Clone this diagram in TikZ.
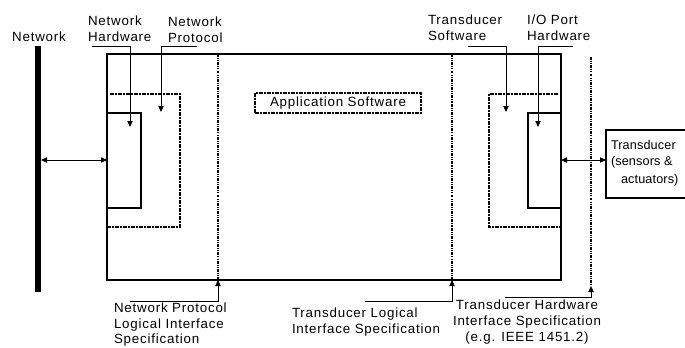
\documentclass[tikz,border=0pt]{standalone}
\usepackage{fontspec}
\setmainfont[LetterSpace=6]{Liberation Sans}
\usetikzlibrary{arrows.meta}
\begin{document}
\begin{tikzpicture}[x=0.75pt,y=-0.75pt,
  every node/.style={inner sep=0pt,outer sep=0pt,font=\fontsize{10}{12}\selectfont},
  solidline/.style={draw=black,line width=0.9pt},
  dotline/.style={draw=black,line width=0.8pt,dash pattern=on 2.2pt off 0.8pt on 0.8pt off 0.8pt on 0.8pt off 0.8pt},
  dashdotline/.style={draw=black,line width=0.8pt,dash pattern=on 3pt off 1pt on 1pt off 1pt},
  tip/.style={-{Triangle[length=4.5pt,width=4pt]}},
  twotip/.style={{Triangle[length=4.5pt,width=4pt]}-{Triangle[length=4.5pt,width=4pt]}},
  lbl/.style={align=left,anchor=base west}]
\useasboundingbox (0,0) rectangle (685,347);
\clip (0,0) rectangle (685,347);

% network bus
\coordinate (busTop) at (38,46);
\coordinate (busBot) at (38,292);
\draw[line width=3.8pt] (busTop) -- (busBot);
\node[anchor=base] (netlbl) at (39,41) {Network};

% main processor box
\node[solidline,minimum width=454*0.75pt,minimum height=226*0.75pt,anchor=north west] (main) at (107,54) {};

% left hardware / protocol boxes
\node[minimum width=73*0.75pt,minimum height=133*0.75pt,anchor=north west] (lproto) at (107,94) {};
\draw[dashdotline] (110,94) -- (180,94) -- (180,227) -- (107,227);
\node[solidline,minimum width=34*0.75pt,minimum height=95*0.75pt,anchor=north west] (lhw) at (107,113) {};

% right hardware / software boxes
\node[minimum width=72*0.75pt,minimum height=133*0.75pt,anchor=north west] (rsoft) at (489,94) {};
\draw[dashdotline] (558,94) -- (489,94) -- (489,227) -- (561,227);
\node[solidline,minimum width=33*0.75pt,minimum height=95*0.75pt,anchor=north west] (rhw) at (528,113) {};

% logical interface boundaries
\coordinate (npTop) at (218,54);
\coordinate (npBot) at (218,280);
\draw[dotline] (npTop) -- (npBot);
\coordinate (tlTop) at (452,54);
\coordinate (tlBot) at (452,280);
\draw[dotline] (tlTop) -- (tlBot);
\coordinate (thTop) at (591,57);
\coordinate (thBot) at (591,286);
\draw[dotline] (thTop) -- (thBot);

% application software
\node[dashdotline,minimum width=166*0.75pt,minimum height=20*0.75pt] (app) at (338,103) {Application Software};

% transducers
\node[solidline,minimum width=100*0.75pt,minimum height=68*0.75pt,anchor=north west] (trans) at (606,130) {};
\node[lbl,font=\fontsize{9.5}{12}\selectfont\addfontfeature{LetterSpace=1}] (translbl) at (611,183) {Transducer\\(sensors \&\\[1.5pt]\hspace*{7.5pt}actuators)};

% bidirectional links
\coordinate (busPt) at (41,160);
\draw[twotip,line width=0.7pt] (busPt) -- (lhw.west |- busPt);
\draw[twotip,line width=0.7pt] (main.east |- 0,160) -- (trans.west |- 0,160);

% top labels with leaders
\node[lbl] (nhw) at (88,41) {Network\\Hardware};
\coordinate (nhwA) at (92,46);
\coordinate (nhwB) at (130,46);
\coordinate (nhwC) at (130,127);
\draw[tip,line width=0.7pt] (nhwA) -- (nhwB) -- (nhwC);

\node[lbl] (npr) at (168,42) {Network\\Protocol};
\coordinate (nprA) at (197,46);
\coordinate (nprB) at (161,46);
\coordinate (nprC) at (161,112);
\draw[tip,line width=0.7pt] (nprA) -- (nprB) -- (nprC);

\node[lbl] (tsw) at (428,40) {Transducer\\Software};
\coordinate (tswA) at (468,46);
\coordinate (tswB) at (506,46);
\coordinate (tswC) at (506,112);
\draw[tip,line width=0.7pt] (tswA) -- (tswB) -- (tswC);

\node[lbl] (iop) at (527,40) {I/O Port\\Hardware};
\coordinate (iopA) at (573,46);
\coordinate (iopB) at (538,46);
\coordinate (iopC) at (538,127);
\draw[tip,line width=0.7pt] (iopA) -- (iopB) -- (iopC);

% bottom labels with leaders
\node[lbl] (nplis) at (114,343) {Network Protocol\\Logical Interface\\[-1pt]Specification};
\coordinate (nplA) at (130,301);
\draw[tip,line width=0.7pt] (nplA) -| (npBot);

\node[lbl] (tlis) at (292,333) {Transducer Logical\\Interface Specification};
\coordinate (tlA) at (365,301);
\draw[tip,line width=0.7pt] (tlA) -| (tlBot);

\node[align=center,anchor=base] (this) at (527,341) {Transducer Hardware\\Interface Specification\\(e.g. IEEE 1451.2)};
\coordinate (thA) at (505,297);
\draw[tip,line width=0.7pt] (thA) -| (thBot);
\end{tikzpicture}
\end{document}
